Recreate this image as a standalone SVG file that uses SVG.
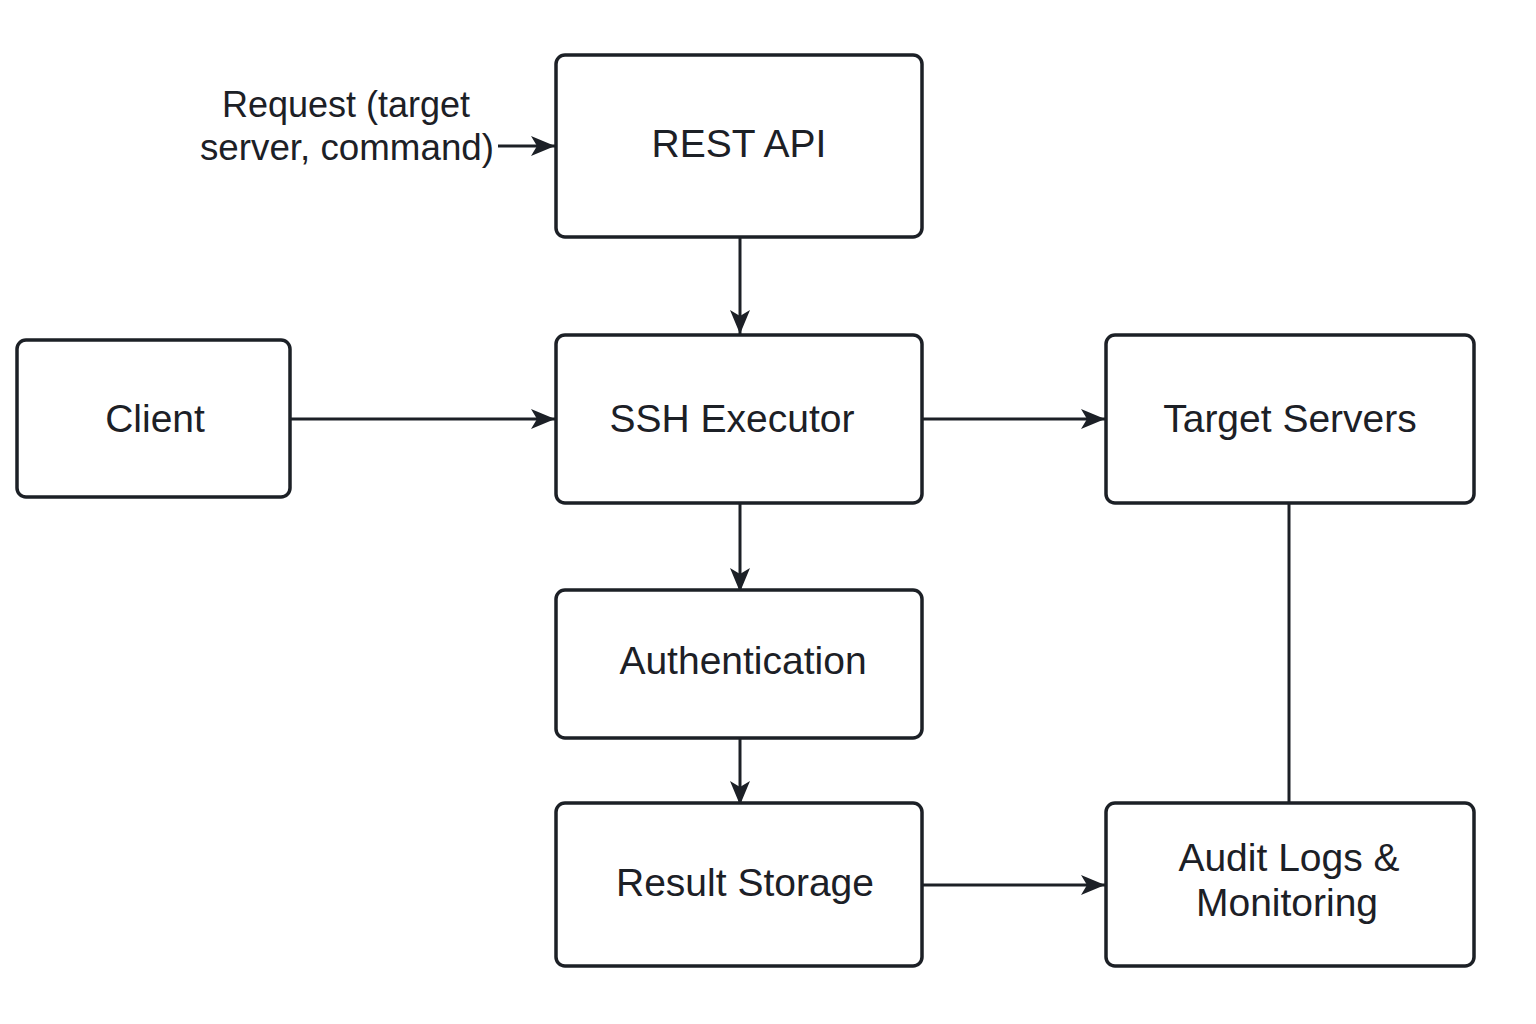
<svg xmlns="http://www.w3.org/2000/svg" width="1536" height="1024" viewBox="0 0 1536 1024">
<style>
.box{fill:#fff;stroke:#1c2026;stroke-width:3.5}
.lbl{font-family:"Liberation Sans",Arial,sans-serif;font-size:39px;fill:#1c2026;text-anchor:middle}
.sm{font-size:36px}
.ln{stroke:#1c2026;stroke-width:3;fill:none}
</style>
<defs>
<marker id="ah" viewBox="0 0 24 20" refX="24" refY="10" markerWidth="24" markerHeight="20" markerUnits="userSpaceOnUse" orient="auto">
<path d="M0,0 L24,10 L0,20 L6,10 Z" fill="#1c2026"/>
</marker>
</defs>
<rect width="1536" height="1024" fill="#fff"/>
<g id="connectors">
<line class="ln" x1="498" y1="146" x2="555" y2="146" marker-end="url(#ah)"/>
<line class="ln" x1="740" y1="237" x2="740" y2="334" marker-end="url(#ah)"/>
<line class="ln" x1="290" y1="419" x2="555" y2="419" marker-end="url(#ah)"/>
<line class="ln" x1="922" y1="419" x2="1105" y2="419" marker-end="url(#ah)"/>
<line class="ln" x1="740" y1="503" x2="740" y2="592" marker-end="url(#ah)"/>
<line class="ln" x1="740" y1="738" x2="740" y2="805" marker-end="url(#ah)"/>
<line class="ln" x1="922" y1="885" x2="1105" y2="885" marker-end="url(#ah)"/>
<line class="ln" x1="1289" y1="503" x2="1289" y2="803"/>
</g>
<g id="request-label">
<text class="lbl sm" x="346" y="117">Request (target</text>
<text class="lbl sm" x="347" y="160" textLength="294" lengthAdjust="spacingAndGlyphs">server, command)</text>
</g>
<g id="rest-api">
<rect class="box" x="556" y="55" width="366" height="182" rx="9"/>
<text class="lbl" x="739" y="157">REST API</text>
</g>
<g id="ssh-executor">
<rect class="box" x="556" y="335" width="366" height="168" rx="9"/>
<text class="lbl" x="732" y="432">SSH Executor</text>
</g>
<g id="client">
<rect class="box" x="17" y="340" width="273" height="157" rx="9"/>
<text class="lbl" x="155" y="432">Client</text>
</g>
<g id="target-servers">
<rect class="box" x="1106" y="335" width="368" height="168" rx="9"/>
<text class="lbl" x="1290" y="432">Target Servers</text>
</g>
<g id="authentication">
<rect class="box" x="556" y="590" width="366" height="148" rx="9"/>
<text class="lbl" x="743" y="674">Authentication</text>
</g>
<g id="result-storage">
<rect class="box" x="556" y="803" width="366" height="163" rx="9"/>
<text class="lbl" x="745" y="896">Result Storage</text>
</g>
<g id="audit-logs">
<rect class="box" x="1106" y="803" width="368" height="163" rx="9"/>
<text class="lbl" x="1289" y="871">Audit Logs &amp;</text>
<text class="lbl" x="1287" y="916">Monitoring</text>
</g>
</svg>
